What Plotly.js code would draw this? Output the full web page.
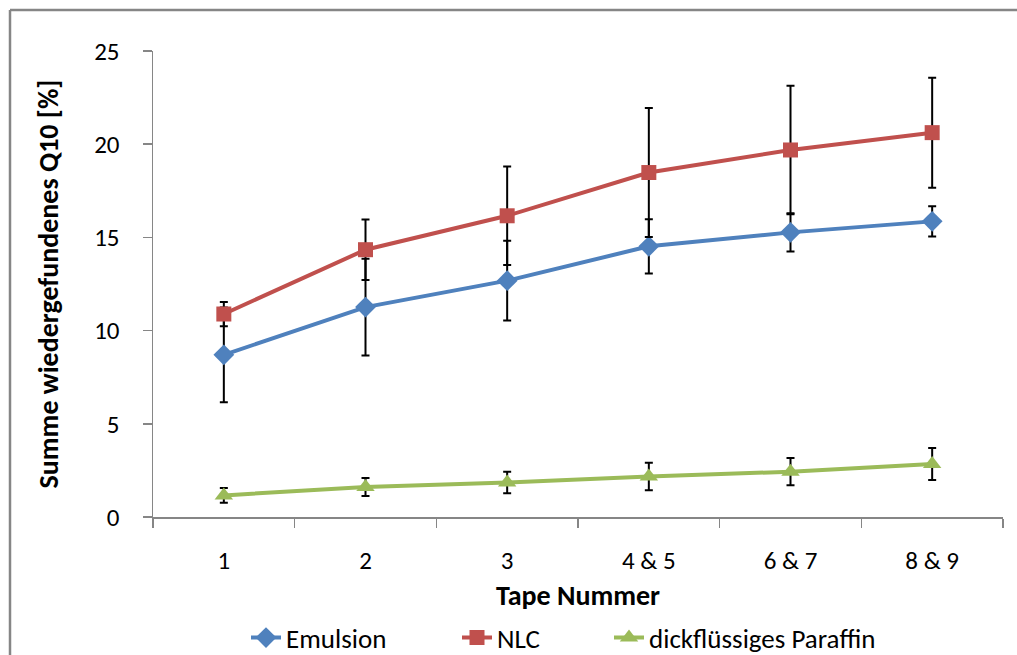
<!DOCTYPE html>
<html>
<head>
<meta charset="utf-8">
<script src="https://cdn.plot.ly/plotly-3.0.1.min.js"></script>
<style>
html,body{margin:0;padding:0;background:#fff;overflow:hidden;}
#chart{width:1017px;height:655px;}
</style>
</head>
<body>
<div id="chart"></div>
<script>
var categories = ['1', '2', '3', '4 & 5', '6 & 7', '8 & 9'];
var emulsion = [8.70, 11.26, 12.68, 14.52, 15.27, 15.86];
var emulsionErr = [2.54, 2.59, 2.14, 1.45, 1.02, 0.81];
var nlc = [10.89, 14.34, 16.16, 18.48, 19.69, 20.62];
var nlcErr = [0.65, 1.62, 2.64, 3.46, 3.45, 2.95];
var paraffin = [1.16, 1.61, 1.85, 2.17, 2.43, 2.84];
var paraffinErr = [0.39, 0.48, 0.58, 0.74, 0.73, 0.86];
var seriesNames = ['Emulsion', 'NLC', 'dickflüssiges Paraffin'];
var yTicks = [0, 5, 10, 15, 20, 25];

var FONT = 'Carlito, Lato, "Liberation Sans", sans-serif';

function trace(name, y, err, color, symbol, size, legendId) {
  return {
    type: 'scatter', mode: 'lines+markers', name: name, legend: legendId,
    x: categories, y: y,
    line: {color: color, width: 4},
    marker: {color: color, symbol: symbol, size: size},
    error_y: {type: 'data', array: err, visible: true, color: '#000', thickness: 2, width: 4}
  };
}

var data = [
  trace(seriesNames[0], emulsion, emulsionErr, '#4F81BD', 'diamond', 16, 'legend'),
  trace(seriesNames[1], nlc, nlcErr, '#C0504D', 'square', 15, 'legend2'),
  trace(seriesNames[2], paraffin, paraffinErr, '#9BBB59', 'triangle-up', 16, 'legend3')
];

function leg(xpx) {
  return {orientation: 'h', x: (xpx - 153) / 850, xanchor: 'left', xref: 'paper',
          y: 1 - 638 / 655, yref: 'container', yanchor: 'middle',
          font: {family: FONT, size: 27, color: '#000'}, bgcolor: 'rgba(0,0,0,0)'};
}

var BX = (10 - 153) / 850, BY = (517 - 10) / 466, BR = (1017 - 153) / 850;

var layout = {
  width: 1017, height: 655,
  margin: {l: 153, r: 14, t: 51, b: 138},
  paper_bgcolor: '#fff', plot_bgcolor: '#fff',
  font: {family: FONT, size: 25, color: '#000'},
  showlegend: true,
  legend: leg(246),
  legend2: leg(457),
  legend3: leg(609),
  xaxis: {
    type: 'category', range: [-0.5, 5.5], tickson: 'boundaries',
    showline: true, linecolor: '#868686', linewidth: 1.5,
    ticks: 'outside', ticklen: 9, tickcolor: '#868686', tickwidth: 1.5,
    showgrid: false, zeroline: false, automargin: false,
    ticklabelstandoff: 20,
    tickfont: {family: FONT, size: 25, color: '#000'},
    title: {text: '<b>Tape Nummer</b>', font: {family: FONT, size: 28, color: '#000'}, standoff: 12}
  },
  yaxis: {
    range: [0, 25], tickvals: yTicks, ticktext: yTicks.map(String),
    showline: true, linecolor: '#868686', linewidth: 1.5,
    ticks: 'outside', ticklen: 9, tickcolor: '#868686', tickwidth: 1.5,
    showgrid: false, zeroline: false, automargin: false,
    ticklabelstandoff: 18,
    tickfont: {family: FONT, size: 25, color: '#000'},
    title: {text: '<b>Summe wiedergefundenes Q10 [%]</b>', font: {family: FONT, size: 28, color: '#000'}, standoff: 27}
  },
  shapes: [
    {type: 'line', xref: 'paper', yref: 'paper', x0: BX, x1: BX, y0: -0.4, y1: BY,
     line: {color: '#868686', width: 2.5}, layer: 'below'},
    {type: 'line', xref: 'paper', yref: 'paper', x0: BX, x1: BR, y0: BY, y1: BY,
     line: {color: '#868686', width: 2.5}, layer: 'below'}
  ]
};

Plotly.newPlot('chart', data, layout, {displayModeBar: false, staticPlot: true});
</script>
</body>
</html>
